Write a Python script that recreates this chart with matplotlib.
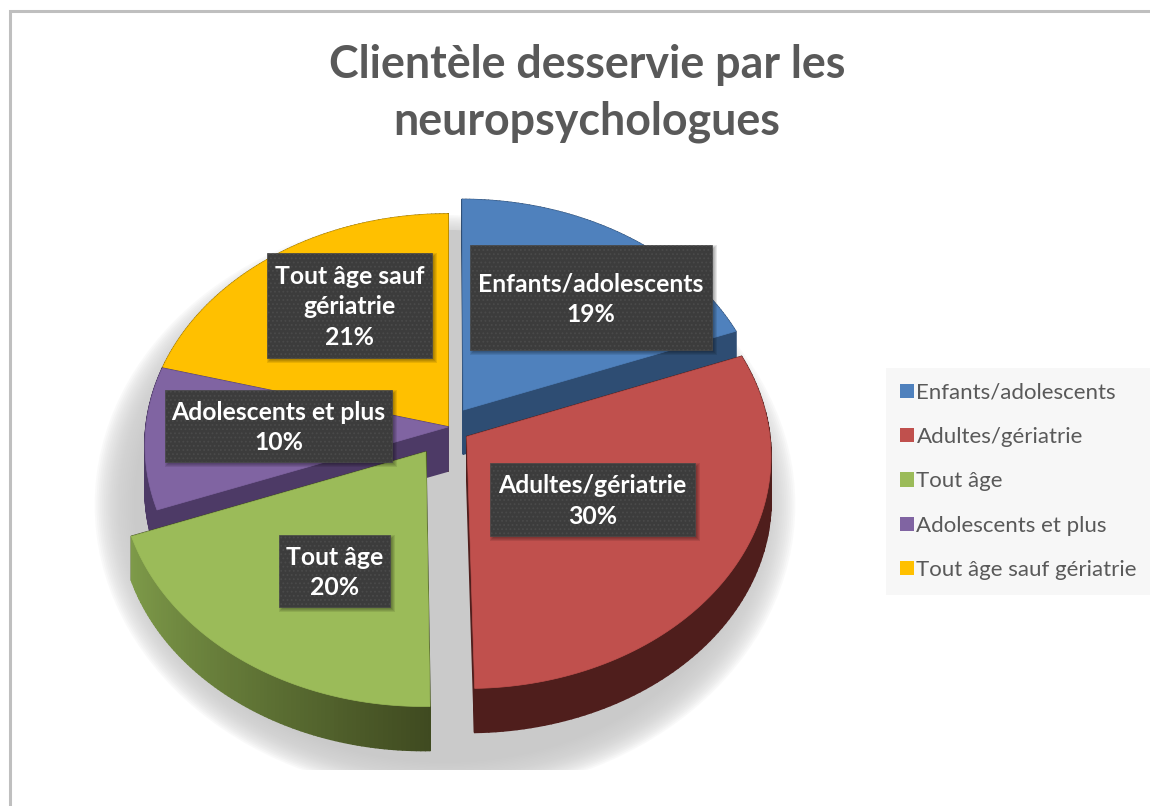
"""Exploded 3D-look pie: clientele of neuropsychologists."""
import numpy as np
import matplotlib
matplotlib.use("Agg")
import matplotlib.pyplot as plt
from matplotlib.collections import PolyCollection
from matplotlib.colors import to_rgb
from matplotlib.patches import Ellipse, Patch, Polygon, Rectangle

plt.rcParams.update({"font.family": ["Lato", "DejaVu Sans"], "hatch.linewidth": 0.8})

categories = ["Enfants/adolescents", "Adultes/gériatrie", "Tout âge", "Adolescents et plus", "Tout âge sauf gériatrie"]
values = [19.2, 30.5, 19.6, 9.9, 20.8]  # labels show them rounded
colors = ["#4f81bd", "#c0504d", "#9bbb59", "#8064a2", "#ffc000"]
wall_colors = ["#2e4d73", "#4f1e1c", "#3f4a20", "#4d3a66", "#997300"]
explode = [0.09, 0.075, 0.13, 0.0, 0.0]
title = "Clientèle desservie par les\nneuropsychologues"

# projection of the unit pie onto the picture (pixels)
CX, CY, R, RS, P, DEPTH = 448, 427, 302, 230, 0.08, 44
INK = "#595959"


def project(x, y):
    d = 1 + P*y
    return np.column_stack((CX + R*x/d, CY - RS*y/d))


fig = plt.figure(figsize=(11.5, 8.06), dpi=100)
ax = fig.add_axes([0, 0, 1, 1])
wedges, _ = ax.pie(values, explode=explode, startangle=90, counterclock=False, radius=1)
ax.set_aspect("auto")
ax.set_xlim(0, 1150); ax.set_ylim(806, 0); ax.axis("off")

# frame of the original chart area
ax.plot([10, 10, 1150], [806, 11, 11], color="#bfbfbf", lw=2.2, solid_joinstyle="miter")

# soft shadow under the pie, cut at its lower edge
clip = Rectangle((0, 0), 1150, 770, transform=ax.transData)
for s in np.linspace(1.16, 0.98, 30):
    e = Ellipse((445, 505), 2*R*s, 2*250*s, color="#cacaca", alpha=0.10, lw=0, zorder=1)
    ax.add_patch(e); e.set_clip_path(clip)
ax.add_patch(Ellipse((448, 445), 540, 430, color="#cacaca", lw=0, zorder=1))

# slices back to front: blue, yellow, purple, green, red
z = 2
for i in [0, 4, 3, 2, 1]:
    w = wedges[i]
    t = np.radians(np.linspace(w.theta1, w.theta2, 90))
    cx0, cy0 = w.center
    xs = np.r_[cx0, cx0 + w.r*np.cos(t)]; ys = np.r_[cy0, cy0 + w.r*np.sin(t)]
    w.remove()
    top = project(xs, ys)
    quads, cols = [], []
    base = np.array(to_rgb(wall_colors[i]))
    for a, b in zip(top, np.roll(top, -1, axis=0)):
        quads.append([a, b, b + [0, DEPTH], a + [0, DEPTH]])
        if i == 2:  # green wall fades towards the left
            f = np.clip((a[0] - 130)/300, 0, 1)**0.8
            cols.append(np.array(to_rgb("#7f9c4a"))*(1 - f) + base*f)
        else:
            cols.append(base)
    ax.add_collection(PolyCollection(quads, facecolors=cols, edgecolors=cols, lw=1.2, zorder=z))
    ax.add_patch(Polygon(top, closed=True, fc=colors[i], ec=colors[i], lw=0.5, zorder=z + 1))
    z += 2

# data labels
boxes = [(470, 245, 242, 105, 0), (490, 463, 205, 73, 1), (279, 535, 111, 72, 2), (165, 390, 227, 72, 3), (267, 253, 165, 105, 4)]
label_text = [categories[0], categories[1], categories[2], categories[3], "Tout âge sauf\ngériatrie"]
for (x, y, bw, bh, i) in boxes:
    for g in range(5):
        ax.add_patch(Rectangle((x + g, y + g), bw + 5 - 2*g, bh + 5 - 2*g, fc="black", alpha=0.09, lw=0, zorder=19))
    ax.add_patch(Rectangle((x, y), bw, bh, fc="#3c3c3c", ec="#4a4a4a", hatch="....", lw=0.5, zorder=20))
    ax.text(x + bw/2, y + bh/2 + 1.5, f"{label_text[i]}\n{values[i]:.0f}%", color="white", fontsize=17.8, weight="bold",
            ha="center", va="center", linespacing=1.4, zorder=21)

ax.text(587, 93.5, title, color=INK, fontsize=32.2, weight="bold", ha="center", va="center", linespacing=1.42)

handles = [Patch(fc=c, ec="none", label=n) for c, n in zip(colors, categories)]
leg = ax.legend(handles=handles, loc="upper left", bbox_to_anchor=(886/1150, 1 - 368/806), frameon=True, fancybox=False,
                facecolor="#f7f7f7", edgecolor="none", framealpha=1, fontsize=16, labelcolor=INK,
                handlelength=0.6, handleheight=0.6, handletextpad=0.12, labelspacing=1.1,
                borderaxespad=0, borderpad=0.65)
leg.set_zorder(5)

fig.savefig("out.png", dpi=100)
